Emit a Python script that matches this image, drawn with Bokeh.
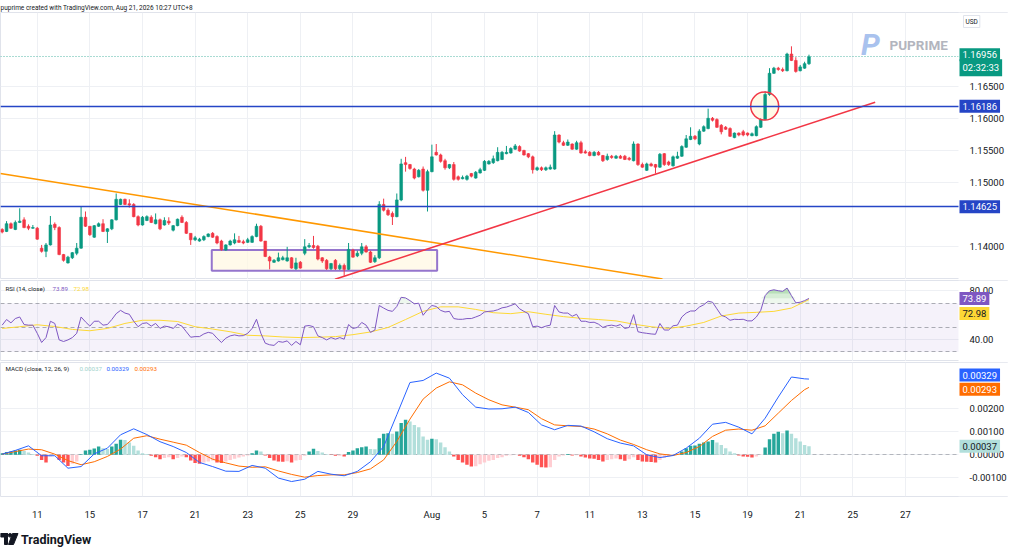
import numpy as np
from bokeh.plotting import figure
from bokeh.layouts import column
from bokeh.models import (Range1d, FixedTicker, Label, ColumnDataSource,
                          NumeralTickFormatter, BoxAnnotation)
from bokeh.core.properties import value
from bokeh.embed import file_html
from bokeh.resources import INLINE

# ---------------- data (4H bars) ----------------
date_ticks = [8, 20, 32, 44, 56, 68, 80, 98, 110, 122, 134, 146, 158, 170, 182, 194, 206]
date_labels = ["11", "15", "17", "21", "23", "25", "29", "Aug", "5", "7", "11", "13",
               "15", "19", "21", "25", "27"]

opens = [1.1427,1.1424,1.1436,1.1427,1.1438,1.1442,1.1432,1.1429,1.1429,1.1398,
         1.1393,1.1403,1.1435,1.1430,1.1388,1.1375,1.1383,1.1390,1.1398,1.1446,
         1.1432,1.1415,1.1432,1.1436,1.1424,1.1428,1.1442,1.1466,1.1474,1.1467,
         1.1466,1.1447,1.1434,1.1441,1.1446,1.1436,1.1442,1.1434,1.1440,1.1426,
         1.1433,1.1446,1.1438,1.1421,1.1411,1.1409,1.1411,1.1416,1.1421,1.1416,
         1.1409,1.1395,1.1403,1.1406,1.1410,1.1408,1.1407,1.1407,1.1416,1.1432,
         1.1409,1.1384,1.1376,1.1378,1.1380,1.1378,1.1383,1.1366,1.1376,1.1390,
         1.1400,1.1402,1.1401,1.1383,1.1379,1.1366,1.1379,1.1366,1.1371,1.1365,
         1.1395,1.1386,1.1390,1.1400,1.1392,1.1377,1.1383,1.1466,1.1457,1.1452,
         1.1447,1.1473,1.1531,1.1528,1.1521,1.1509,1.1521,1.1488,1.1517,1.1547,
         1.1543,1.1534,1.1523,1.1528,1.1509,1.1506,1.1505,1.1514,1.1507,1.1515,
         1.1519,1.1529,1.1531,1.1534,1.1536,1.1545,1.1546,1.1552,1.1556,1.1550,
         1.1545,1.1540,1.1520,1.1523,1.1520,1.1521,1.1521,1.1574,1.1562,1.1558,
         1.1560,1.1552,1.1562,1.1548,1.1547,1.1542,1.1547,1.1542,1.1536,1.1541,
         1.1538,1.1541,1.1541,1.1538,1.1534,1.1560,1.1528,1.1519,1.1529,1.1528,
         1.1524,1.1545,1.1532,1.1526,1.1538,1.1541,1.1555,1.1567,1.1572,1.1560,
         1.1580,1.1584,1.1600,1.1598,1.1589,1.1586,1.1584,1.1570,1.1577,1.1579,
         1.1577,1.1573,1.1573,1.1586,1.1598,1.1637,1.1670,1.1678,1.1676,1.1674,
         1.1700,1.1690,1.1674,1.1678,1.1685]
highs = [1.1429,1.1440,1.1438,1.1441,1.1460,1.1446,1.1435,1.1434,1.1431,1.1403,
         1.1406,1.1448,1.1438,1.1432,1.1389,1.1386,1.1392,1.1406,1.1463,1.1455,
         1.1432,1.1434,1.1438,1.1443,1.1429,1.1443,1.1483,1.1475,1.1475,1.1474,
         1.1468,1.1449,1.1448,1.1449,1.1449,1.1452,1.1444,1.1446,1.1446,1.1434,
         1.1444,1.1449,1.1440,1.1421,1.1417,1.1414,1.1418,1.1421,1.1423,1.1418,
         1.1411,1.1404,1.1411,1.1421,1.1417,1.1411,1.1414,1.1418,1.1436,1.1434,
         1.1409,1.1386,1.1381,1.1391,1.1386,1.1400,1.1384,1.1383,1.1378,1.1412,
         1.1406,1.1417,1.1403,1.1384,1.1381,1.1375,1.1381,1.1374,1.1374,1.1406,
         1.1397,1.1394,1.1406,1.1403,1.1394,1.1387,1.1471,1.1475,1.1460,1.1455,
         1.1483,1.1537,1.1540,1.1529,1.1523,1.1521,1.1525,1.1520,1.1559,1.1560,
         1.1545,1.1537,1.1529,1.1532,1.1511,1.1511,1.1512,1.1515,1.1518,1.1523,
         1.1535,1.1535,1.1542,1.1555,1.1549,1.1557,1.1555,1.1560,1.1558,1.1551,
         1.1546,1.1542,1.1525,1.1525,1.1525,1.1528,1.1580,1.1575,1.1565,1.1567,
         1.1561,1.1565,1.1565,1.1551,1.1549,1.1549,1.1549,1.1543,1.1545,1.1543,
         1.1543,1.1543,1.1543,1.1540,1.1564,1.1561,1.1531,1.1531,1.1531,1.1529,
         1.1546,1.1546,1.1534,1.1542,1.1548,1.1558,1.1574,1.1586,1.1574,1.1583,
         1.1589,1.1615,1.1602,1.1600,1.1591,1.1588,1.1586,1.1578,1.1578,1.1582,
         1.1578,1.1578,1.1589,1.1600,1.1642,1.1678,1.1680,1.1680,1.1679,1.1702,
         1.1712,1.1695,1.1683,1.1688,1.1699]
lows = [1.1421,1.1423,1.1428,1.1426,1.1437,1.1429,1.1426,1.1428,1.1411,1.1391,
        1.1384,1.1402,1.1426,1.1387,1.1377,1.1374,1.1381,1.1387,1.1397,1.1431,
        1.1417,1.1414,1.1431,1.1423,1.1406,1.1426,1.1441,1.1465,1.1465,1.1461,
        1.1446,1.1432,1.1433,1.1440,1.1437,1.1435,1.1426,1.1433,1.1434,1.1424,
        1.1432,1.1437,1.1420,1.1403,1.1409,1.1408,1.1409,1.1415,1.1414,1.1404,
        1.1394,1.1394,1.1402,1.1404,1.1406,1.1404,1.1406,1.1406,1.1415,1.1408,
        1.1384,1.1365,1.1375,1.1377,1.1379,1.1377,1.1366,1.1364,1.1366,1.1387,
        1.1398,1.1397,1.1379,1.1375,1.1364,1.1364,1.1364,1.1364,1.1355,1.1364,
        1.1383,1.1384,1.1387,1.1391,1.1375,1.1375,1.1381,1.1455,1.1448,1.1434,
        1.1446,1.1471,1.1517,1.1520,1.1505,1.1508,1.1486,1.1455,1.1516,1.1542,
        1.1531,1.1520,1.1521,1.1503,1.1503,1.1505,1.1503,1.1508,1.1506,1.1514,
        1.1518,1.1528,1.1529,1.1533,1.1535,1.1544,1.1545,1.1551,1.1548,1.1542,
        1.1538,1.1514,1.1518,1.1518,1.1518,1.1520,1.1520,1.1561,1.1557,1.1557,
        1.1551,1.1551,1.1545,1.1545,1.1541,1.1541,1.1542,1.1532,1.1534,1.1537,
        1.1537,1.1537,1.1535,1.1534,1.1533,1.1526,1.1523,1.1518,1.1525,1.1514,
        1.1523,1.1526,1.1526,1.1525,1.1537,1.1540,1.1554,1.1566,1.1566,1.1558,
        1.1579,1.1583,1.1595,1.1585,1.1575,1.1582,1.1571,1.1569,1.1572,1.1572,
        1.1572,1.1572,1.1572,1.1585,1.1597,1.1635,1.1669,1.1674,1.1672,1.1673,
        1.1689,1.1671,1.1673,1.1677,1.1683]
closes = [1.1423,1.1436,1.1429,1.1438,1.1440,1.1430,1.1429,1.1430,1.1412,1.1393,
          1.1403,1.1434,1.1430,1.1388,1.1379,1.1384,1.1391,1.1398,1.1446,1.1432,
          1.1419,1.1433,1.1436,1.1424,1.1428,1.1442,1.1474,1.1474,1.1466,1.1465,
          1.1447,1.1434,1.1446,1.1447,1.1438,1.1442,1.1428,1.1441,1.1437,1.1433,
          1.1443,1.1438,1.1421,1.1411,1.1414,1.1412,1.1416,1.1420,1.1415,1.1406,
          1.1396,1.1403,1.1409,1.1411,1.1407,1.1406,1.1411,1.1416,1.1432,1.1409,
          1.1385,1.1378,1.1379,1.1383,1.1383,1.1383,1.1367,1.1375,1.1367,1.1400,
          1.1402,1.1399,1.1381,1.1378,1.1366,1.1374,1.1366,1.1371,1.1365,1.1396,
          1.1384,1.1390,1.1400,1.1392,1.1376,1.1383,1.1466,1.1457,1.1450,1.1447,
          1.1473,1.1529,1.1528,1.1522,1.1507,1.1519,1.1488,1.1517,1.1540,1.1543,
          1.1533,1.1523,1.1528,1.1505,1.1505,1.1508,1.1510,1.1510,1.1516,1.1520,
          1.1533,1.1533,1.1537,1.1547,1.1547,1.1547,1.1553,1.1557,1.1549,1.1543,
          1.1540,1.1520,1.1523,1.1520,1.1523,1.1524,1.1574,1.1563,1.1558,1.1563,
          1.1552,1.1562,1.1546,1.1546,1.1542,1.1547,1.1543,1.1534,1.1541,1.1539,
          1.1541,1.1538,1.1536,1.1536,1.1560,1.1528,1.1524,1.1529,1.1526,1.1524,
          1.1544,1.1528,1.1528,1.1540,1.1541,1.1556,1.1568,1.1572,1.1568,1.1580,
          1.1587,1.1600,1.1597,1.1586,1.1579,1.1583,1.1572,1.1577,1.1574,1.1574,
          1.1574,1.1576,1.1587,1.1598,1.1637,1.1670,1.1678,1.1676,1.1674,1.1700,
          1.1690,1.1673,1.1680,1.1685,1.16956]

price_ticks = [1.140, 1.150, 1.155, 1.160, 1.165]
hlines = [1.16186, 1.14625]
down_trend_x = [-0.4, 150.6]
down_trend_y = [1.15142, 1.13500]
up_trend_x = [75.9, 199.1]
up_trend_y = [1.13495, 1.16251]
box_x = [47.8, 99.2]
box_y = [1.13629, 1.13952]
circle_x = [173.9]
circle_y = [1.16190]

rsi = [52.0,56.6,53.9,57.4,58.7,52.5,52.0,52.0,45.3,37.8,
       41.8,55.2,53.4,39.9,38.6,39.9,41.8,45.3,58.7,54.7,
       51.2,55.2,55.2,52.0,52.5,56.6,61.4,64.1,61.9,60.9,
       55.2,50.7,53.4,53.9,51.2,53.4,49.3,51.2,50.7,49.3,
       52.8,51.2,46.6,42.1,42.6,42.6,44.8,46.1,45.3,41.3,
       37.8,41.3,43.2,44.0,43.2,43.4,45.3,49.3,56.8,45.3,
       37.2,35.9,35.4,38.6,38.0,39.1,35.4,38.6,35.9,51.2,
       51.7,50.7,43.2,41.8,39.9,41.8,40.5,41.8,40.5,52.5,
       49.3,50.1,54.2,52.0,46.1,48.0,68.1,66.0,64.1,63.3,
       67.3,74.8,74.3,72.1,69.5,70.0,60.1,64.6,68.1,67.3,
       64.1,62.8,63.3,57.4,56.8,56.8,57.4,57.4,58.7,60.1,
       62.8,63.3,63.6,64.6,66.2,66.8,68.1,69.5,65.4,63.3,
       61.4,50.7,51.2,49.9,51.2,52.0,68.1,62.8,61.9,61.9,
       59.3,60.9,55.2,55.2,54.2,54.4,52.8,50.1,51.5,52.0,
       51.2,52.5,49.3,50.1,60.6,46.6,45.8,45.3,44.8,44.5,
       53.4,48.0,48.0,51.5,52.0,58.7,61.9,63.6,63.6,66.8,
       68.7,71.6,70.8,65.4,60.1,58.7,56.0,56.8,56.6,56.8,
       55.5,55.5,58.7,64.1,76.2,80.2,81.0,80.2,79.7,82.4,
       76.2,70.3,70.8,72.1,73.89]
rsi_ma_x = list(range(0, 185, 4))
rsi_ma = [49.3,50.7,52.3,50.9,48.5,47.4,49.3,53.4,56.0,56.0,
          55.0,50.7,48.8,46.6,43.7,43.2,42.3,41.8,42.1,42.6,
          44.2,46.4,50.1,56.6,63.3,67.0,67.0,64.9,62.2,61.4,
          63.0,60.9,59.0,57.6,56.6,55.5,52.8,50.7,49.3,51.2,
          54.2,59.5,61.9,62.5,63.3,66.0,72.98]
rsi_ticks = [40, 80]
rsi_levels = [70, 50, 30]

macd_x = list(range(0, 184, 3)) + [184]
macd = [0.00003,0.00019,0.00039,-0.00004,-0.00004,-0.00058,-0.00051,0.00004,0.00029,0.00087,
        0.00113,0.00088,0.00057,0.00036,0.00010,-0.00033,-0.00051,-0.00071,-0.00072,-0.00046,
        -0.00058,-0.00101,-0.00116,-0.00106,-0.00072,-0.00084,-0.00091,-0.00072,-0.00030,0.00036,
        0.00174,0.00314,0.00323,0.00355,0.00333,0.00261,0.00207,0.00199,0.00200,0.00207,
        0.00184,0.00130,0.00109,0.00128,0.00125,0.00100,0.00070,0.00051,0.00039,0.00000,
        -0.00012,-0.00003,0.00029,0.00072,0.00133,0.00141,0.00120,0.00091,0.00159,0.00251,
        0.00338,0.00330,0.00329]
signal = [0.00003,0.00014,0.00025,0.00022,0.00003,-0.00025,-0.00043,-0.00030,-0.00007,0.00025,
          0.00072,0.00083,0.00068,0.00055,0.00042,0.00010,-0.00019,-0.00035,-0.00049,-0.00054,
          -0.00052,-0.00070,-0.00085,-0.00097,-0.00090,-0.00087,-0.00087,-0.00077,-0.00061,-0.00022,
          0.00058,0.00155,0.00242,0.00290,0.00317,0.00304,0.00268,0.00239,0.00217,0.00207,
          0.00196,0.00157,0.00130,0.00126,0.00123,0.00112,0.00091,0.00064,0.00045,0.00022,
          0.00004,-0.00003,0.00010,0.00036,0.00080,0.00107,0.00112,0.00107,0.00126,0.00181,
          0.00236,0.00283,0.00293]
hist = [0.00007,0.00012,0.00014,0.00019,0.00022,0.00017,0.00010,0.00004,-0.00004,-0.00022,
        -0.00033,-0.00007,-0.00003,-0.00022,-0.00033,-0.00048,-0.00039,-0.00029,0.00003,0.00019,
        0.00022,0.00028,0.00036,0.00029,0.00025,0.00036,0.00048,0.00065,0.00064,0.00054,
        0.00039,0.00019,0.00007,0.00004,-0.00004,-0.00010,-0.00019,-0.00014,-0.00010,-0.00019,
        -0.00014,-0.00007,-0.00010,-0.00025,-0.00036,-0.00039,-0.00033,-0.00029,-0.00025,-0.00033,
        -0.00036,-0.00029,-0.00022,-0.00017,-0.00012,-0.00007,-0.00003,0.00007,0.00019,0.00014,
        -0.00003,-0.00014,-0.00025,-0.00029,-0.00030,-0.00028,-0.00033,-0.00025,-0.00022,-0.00004,
        0.00014,0.00026,0.00017,0.00010,0.00003,-0.00001,-0.00004,-0.00004,-0.00007,0.00012,
        0.00019,0.00029,0.00033,0.00036,0.00025,0.00024,0.00072,0.00091,0.00094,0.00091,
        0.00101,0.00138,0.00152,0.00145,0.00130,0.00120,0.00080,0.00066,0.00070,0.00068,
        0.00054,0.00033,0.00014,-0.00007,-0.00022,-0.00033,-0.00043,-0.00051,-0.00050,-0.00041,
        -0.00033,-0.00026,-0.00022,-0.00014,-0.00010,-0.00004,-0.00002,-0.00001,-0.00004,-0.00010,
        -0.00019,-0.00033,-0.00043,-0.00054,-0.00055,-0.00054,-0.00022,-0.00007,-0.00003,0.00004,
        -0.00003,-0.00002,-0.00007,-0.00012,-0.00016,-0.00017,-0.00022,-0.00029,-0.00022,-0.00019,
        -0.00016,-0.00019,-0.00026,-0.00019,-0.00010,-0.00022,-0.00029,-0.00030,-0.00031,-0.00033,
        -0.00022,-0.00014,-0.00007,-0.00003,0.00001,0.00014,0.00029,0.00039,0.00041,0.00048,
        0.00054,0.00058,0.00064,0.00054,0.00043,0.00029,0.00014,0.00007,-0.00003,-0.00007,
        -0.00008,-0.00012,-0.00007,-0.00001,0.00032,0.00068,0.00091,0.00100,0.00094,0.00106,
        0.00091,0.00072,0.00058,0.00043,0.00037]
macd_ticks = [-0.001, 0.0, 0.001, 0.002]

HEADER = "puprime created with TradingView.com, Aug 21, 2026 10:27 UTC+8"

# ---------------- styling ----------------
FONT = "Roboto"
TXT = "#131722"
GRID = "#eef0f4"
BORDER = "#e0e3eb"
UP = "#089981"
DOWN = "#F23645"
HBLUE = "#2545c6"
FW = 1008          # frame covers the price-scale strip too
PLOT_W = 958       # width of the chart area (left of the price scale)
X0, XSTRIP = -0.38, 218.1
XEND = X0 + (XSTRIP - X0) * FW / PLOT_W
OB_LAYERS = [(70, 0.10), (74, 0.14), (78, 0.22)]   # stepped "gradient" of the overbought fill

n = len(closes)
bars = list(range(n))
x_range = Range1d(X0, XEND)


def style(fig):
    fig.outline_line_color = BORDER
    fig.grid.grid_line_color = GRID
    ax = fig.yaxis[0]
    ax.fixed_location = XSTRIP
    ax.axis_line_color = None
    ax.major_tick_line_color = None
    ax.minor_tick_line_color = None
    ax.major_label_text_font = FONT
    ax.major_label_text_font_size = "9.5px"
    ax.major_label_text_color = TXT
    ax.major_label_standoff = 5


def strip_cover(fig):
    # white price-scale strip on top of grid / glyph lines
    fig.add_layout(BoxAnnotation(left=XSTRIP, fill_color="white", fill_alpha=1.0,
                                 line_alpha=0, level="glyph"))


def axis_box(fig, y, text, bg, fg, y_offset=0):
    fig.add_layout(Label(x=PLOT_W + 1, y=y, x_units="screen", y_units="data",
                         y_offset=y_offset, text=text, text_font=FONT,
                         text_font_size="9.5px", text_color=fg, text_align="left",
                         text_baseline="middle", background_fill_color=bg, padding=3))


def screen_text(fig, x, y, text, color, size, style_="normal", align="left"):
    fig.add_layout(Label(x=x, y=y, x_units="screen", y_units="screen", text=text,
                         text_font=FONT, text_font_size=size, text_color=color,
                         text_font_style=style_, text_align=align, text_baseline="middle"))


common = dict(frame_width=FW, x_range=x_range, y_axis_location="right",
              output_backend="svg", toolbar_location=None, min_border_left=0,
              min_border_right=0, min_border_bottom=0)

# ---------------- price pane ----------------
p = figure(frame_height=267, y_range=Range1d(1.13492, 1.17646), x_axis_location=None,
           title=HEADER, min_border_top=0, **common)
style(p)
p.title.text_font = FONT
p.title.text_font_size = "6.5px"
p.title.text_font_style = "normal"
p.title.text_color = TXT
p.title.standoff = 2
p.xgrid.ticker = FixedTicker(ticks=date_ticks)
p.yaxis.ticker = FixedTicker(ticks=price_ticks)
p.yaxis.formatter = NumeralTickFormatter(format="0.00000")

p.quad(left=[box_x[0]], right=[box_x[1]], bottom=[box_y[0]], top=[box_y[1]],
       fill_color="#fff8e1", fill_alpha=0.7, line_color="#9575cd", line_width=2)
p.scatter(circle_x, circle_y, size=28, marker="circle", fill_color="#fff8e1",
          fill_alpha=0.8, line_color=None)

body_top = [max(o, c) for o, c in zip(opens, closes)]
body_bot = [min(o, c) for o, c in zip(opens, closes)]
ccol = [UP if c >= o else DOWN for o, c in zip(opens, closes)]
src = ColumnDataSource(dict(x=bars, h=highs, l=lows, t=body_top, b=body_bot, color=ccol))
p.segment("x", "h", "x", "l", source=src, line_color="color", line_width=1)
p.vbar(x="x", width=0.62, top="t", bottom="b", source=src, fill_color="color",
       line_color="color", line_width=0.6)

p.line(down_trend_x, down_trend_y, line_color="#FF9800", line_width=1.5)
p.line(up_trend_x, up_trend_y, line_color="#F23645", line_width=1.5)
p.scatter(circle_x, circle_y, size=28, marker="circle", fill_color=None,
          line_color="#F23645", line_width=1.5)
p.hspan(y=hlines, line_color=HBLUE, line_width=1.5)
p.hspan(y=[closes[-1]], line_color=UP, line_dash="1 2", line_alpha=0.7, line_width=1)
strip_cover(p)

for h in hlines:
    axis_box(p, h, f"{h:.5f}", HBLUE, "white")
axis_box(p, closes[-1], f"{closes[-1]:.5f}", UP, "white", y_offset=2)
axis_box(p, closes[-1], "02:32:33", UP, "white", y_offset=-11)

p.add_layout(Label(x=PLOT_W + 5, y=258, x_units="screen", y_units="screen", text="USD",
                   text_font=FONT, text_font_size="6.5px", text_color=TXT,
                   text_baseline="middle", border_line_color=BORDER, padding=2))
screen_text(p, 870, 235, "P", "#a9c2ee", "30px", "bold italic", "center")
screen_text(p, 889, 235, "PUPRIME", "#b2b5be", "13.5px", "bold")

# ---------------- RSI pane ----------------
r = figure(frame_height=81, y_range=Range1d(22.2, 88.6), x_axis_location=None,
           min_border_top=1, **common)
style(r)
r.xgrid.ticker = FixedTicker(ticks=date_ticks)
r.yaxis.ticker = FixedTicker(ticks=rsi_ticks)
r.yaxis.formatter = NumeralTickFormatter(format="0.00")
r.add_layout(BoxAnnotation(bottom=rsi_levels[2], top=rsi_levels[0], fill_color="#7E57C2",
                           fill_alpha=0.08, line_alpha=0, level="underlay"))
r.hspan(y=rsi_levels, line_color="#787B86", line_dash="4 3", line_alpha=0.6, line_width=1)
for lvl, alpha in OB_LAYERS:
    r.varea(x=bars, y1=[lvl] * n, y2=list(np.maximum(rsi, lvl)),
            fill_color="#4CAF50", fill_alpha=alpha)
r.line(rsi_ma_x, rsi_ma, line_color="#FDD835", line_width=1)
r.line(bars, rsi, line_color="#7E57C2", line_width=1)
strip_cover(r)
screen_text(r, 5, 73, "RSI (14, close)", TXT, "6.2px")
screen_text(r, 52, 73, f"{rsi[-1]:.2f}", "#7E57C2", "6.2px")
screen_text(r, 73, 73, f"{rsi_ma[-1]:.2f}", "#FDD835", "6.2px")
axis_box(r, rsi[-1], f"{rsi[-1]:.2f}", "#7E57C2", "white")
axis_box(r, rsi_ma[-1], f"{rsi_ma[-1]:.2f}", "#FDD835", TXT, y_offset=-14)

# ---------------- MACD pane ----------------
m = figure(frame_height=134, y_range=Range1d(-0.00181, 0.00401), min_border_top=1,
           **common)
style(m)
m.yaxis.ticker = FixedTicker(ticks=macd_ticks)
m.yaxis.formatter = NumeralTickFormatter(format="0.00000")
xa = m.xaxis[0]
xa.ticker = FixedTicker(ticks=date_ticks)
xa.major_label_overrides = dict(zip(date_ticks, date_labels))
xa.axis_line_color = None
xa.major_tick_line_color = None
xa.minor_tick_line_color = None
xa.major_label_text_font = FONT
xa.major_label_text_font_size = "9.5px"
xa.major_label_text_color = TXT
xa.major_label_standoff = 6

m.hspan(y=[0], line_color="#787B86", line_dash="4 3", line_alpha=0.5, line_width=1)
hcol = []
for i, hv in enumerate(hist):
    prev = hist[i - 1] if i > 0 else hv
    if hv >= 0:
        hcol.append("#26A69A" if hv >= prev else "#B2DFDB")
    else:
        hcol.append("#FF5252" if hv < prev else "#FFCDD2")
m.vbar(x=bars, width=0.78, top=hist, bottom=0, fill_color=hcol, line_color=None)
m.line(macd_x, signal, line_color="#FF6D00", line_width=1)
m.line(macd_x, macd, line_color="#2962FF", line_width=1)
strip_cover(m)
screen_text(m, 5, 128, "MACD (close, 12, 26, 9)", TXT, "6.2px")
screen_text(m, 79, 128, f"{hist[-1]:.5f}", "#9fd3cd", "6.2px")
screen_text(m, 106, 128, f"{macd[-1]:.5f}", "#2962FF", "6.2px")
screen_text(m, 134, 128, f"{signal[-1]:.5f}", "#FF6D00", "6.2px")
axis_box(m, macd[-1], f"{macd[-1]:.5f}", "#2962FF", "white", y_offset=4)
axis_box(m, signal[-1], f"{signal[-1]:.5f}", "#FF6D00", "white", y_offset=-2)
axis_box(m, hist[-1], f"{hist[-1]:.5f}", "#B2DFDB", TXT)

# ---------------- footer (TradingView logo) ----------------
f = figure(width=140, height=30, x_range=Range1d(0, 140), y_range=Range1d(0, 30),
           x_axis_location=None, y_axis_location=None, output_backend="svg",
           toolbar_location=None, min_border=0)
f.grid.visible = False
f.outline_line_color = None
f.quad(left=[0, 4], right=[7, 7], bottom=[15.5, 8], top=[19, 19], color=TXT)
f.scatter([9.6], [17.2], size=3.6, marker="circle", color=TXT)
f.patch([12, 17.5, 13, 8], [19, 19, 8, 8], color=TXT)
f.text(x=[20.5], y=[13.5], text=["TradingView"], text_font=value(FONT),
       text_font_style="bold", text_font_size="12.5px", text_baseline="middle",
       text_color=TXT)

layout = column(p, r, m, f, spacing=0)
open("out.html", "w").write(file_html(layout, INLINE, title="EURUSD 4H"))
